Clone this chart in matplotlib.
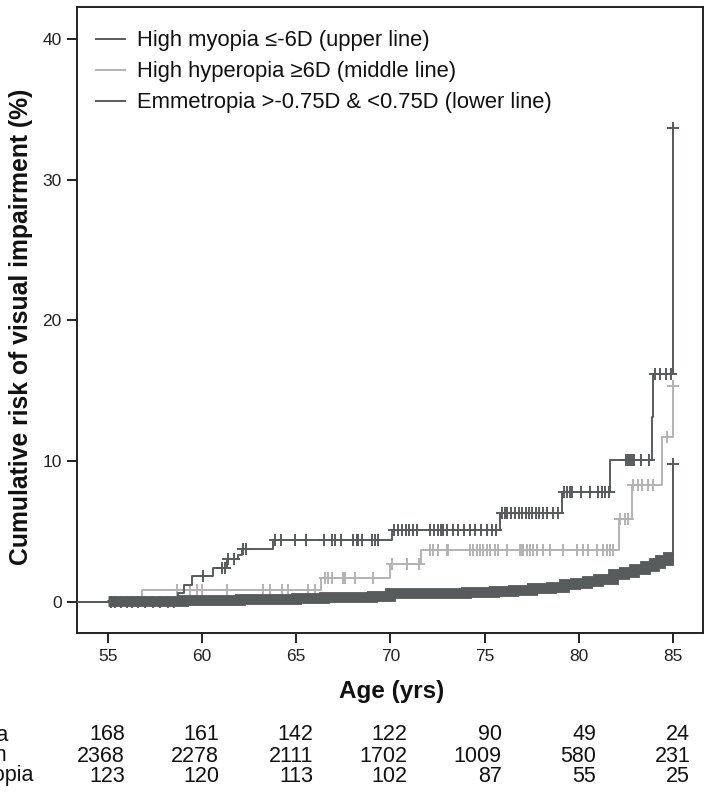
import numpy as np
import matplotlib
matplotlib.use("Agg")
import matplotlib.pyplot as plt
from matplotlib.transforms import blended_transform_factory

plt.rcParams['font.family'] = ['Liberation Sans', 'DejaVu Sans']

# Kaplan-Meier style step curves (age in years, cumulative risk in %)
myopia_age = [53.4, 58.75, 59.05, 59.45, 60.6, 61.35, 61.9, 62.15, 63.75, 70.1, 75.8, 79.1, 81.65, 83.85, 83.95, 85.0]
myopia_risk = [0.0, 0.6, 1.2, 1.8, 2.4, 3.0, 3.35, 3.75, 4.4, 5.1, 6.3, 7.8, 10.05, 13.1, 16.2, 33.7]
myopia_cens = [55.2, 55.4, 55.7, 56.0, 56.3, 56.6, 57.0, 57.4, 57.8, 58.2, 58.5, 60.05, 61.05, 61.2,
               61.4, 61.7, 62.2, 62.35, 63.9, 64.2, 64.95, 65.5, 66.5, 66.9, 67.05, 67.4, 68.0, 68.2,
               68.3, 68.5, 69.0, 69.2, 69.35, 70.2, 70.4, 70.6, 70.8, 71.0, 71.2, 71.4, 72.1, 72.3,
               72.5, 72.7, 72.8, 73.0, 73.3, 73.6, 73.9, 74.2, 74.5, 74.8, 75.1, 75.4, 75.6, 75.9,
               76.05, 76.2, 76.4, 76.6, 76.8, 77.0, 77.2, 77.35, 77.5, 77.7, 77.9, 78.1, 78.3, 78.6,
               78.9, 79.2, 79.35, 79.5, 79.65, 80.1, 80.6, 81.0, 81.2, 81.4, 81.6, 82.5, 82.6, 82.7,
               82.8, 82.9, 83.3, 83.7, 84.05, 84.3, 84.6, 84.9, 85.0]

hyper_age = [53.4, 56.8, 66.3, 69.95, 71.6, 82.1, 82.8, 84.4, 85.0]
hyper_risk = [0.0, 0.8, 1.65, 2.65, 3.65, 5.85, 8.3, 11.7, 15.3]
hyper_cens = [58.66, 59.37, 59.72, 59.99, 61.31, 63.26, 63.61, 64.23, 64.58, 65.64, 66.0, 66.53, 66.7,
              66.88, 67.5, 67.6, 68.12, 69.09, 70.1, 70.9, 71.5, 72.1, 72.27, 72.54, 72.98, 73.07,
              74.22, 74.4, 74.58, 74.75, 74.93, 75.11, 75.28, 75.55, 75.72, 76.17, 76.87, 76.96,
              77.05, 77.23, 77.4, 77.58, 77.76, 78.11, 78.46, 79.17, 79.88, 80.23, 80.5, 80.94,
              81.29, 81.47, 81.65, 81.82, 82.18, 82.44, 82.62, 82.88, 83.15, 83.33, 83.68, 83.94,
              84.65, 85.0]

emm_age = [53.4, 55.0, 56.0, 57.5, 59.0, 60.5, 62.0, 63.5, 65.0, 66.5, 68.0, 69.0, 70.0, 72.0, 74.0,
           75.5, 76.5, 77.5, 78.5, 79.2, 79.8, 80.4, 81.0, 81.8, 82.4, 82.9, 83.5, 84.0, 84.3, 84.7, 85.0]
emm_risk = [0.0, 0.02, 0.04, 0.07, 0.10, 0.13, 0.17, 0.21, 0.26, 0.31, 0.36, 0.40, 0.58, 0.62, 0.66,
            0.74, 0.86, 0.95, 1.05, 1.25, 1.35, 1.50, 1.62, 1.95, 2.10, 2.35, 2.55, 2.75, 2.95, 3.15, 9.8]
emm_cens_start = 55.0   # censored ticks overlap into a solid band from here
emm_cens_end = 85.0

legend_labels = ['High myopia \u2264-6D (upper line)',
                 'High hyperopia \u22656D (middle line)',
                 'Emmetropia >-0.75D & <0.75D (lower line)']

risk_ages = [55, 60, 65, 70, 75, 80, 85]
risk_rows = ['High myopia', 'Emmetropic population', 'High hyperopia']
risk_counts = [[168, 161, 142, 122, 90, 49, 24],
               [2368, 2278, 2111, 1702, 1009, 580, 231],
               [123, 120, 113, 102, 87, 55, 25]]

dark = '#575b5b'
light = '#b3b3b3'


def step_at(ages, risks, t):
    idx = np.searchsorted(ages, t, side='right') - 1
    return np.asarray(risks)[idx]


fig = plt.figure(figsize=(7.12, 7.96), dpi=100)
ax = fig.add_axes([0.1081, 0.2044, 0.8796, 0.7864])

# hyperopia (light)
ax.step(hyper_age, hyper_risk, where='post', color=light, lw=1.4, zorder=2, label=legend_labels[1])
ax.plot(hyper_cens, step_at(hyper_age, hyper_risk, hyper_cens), ls='none', marker='+',
        ms=8.5, mew=1.4, color=light, zorder=2)

# emmetropia (dark, dense censoring -> band)
ea = np.asarray(emm_age)
er = np.asarray(emm_risk)
m = (ea >= emm_cens_start) & (ea < emm_cens_end)
band_x = np.r_[ea[m], emm_cens_end]
band_y = np.r_[er[m], er[m][-1]]
ax.step(emm_age, emm_risk, where='post', color=dark, lw=1.4, zorder=3, label=legend_labels[2])
ax.step(band_x, band_y, where='post', color=dark, lw=7.8, zorder=3,
        solid_joinstyle='miter', solid_capstyle='butt')
ax.plot([emm_cens_end], [emm_risk[-1]], ls='none', marker='+', ms=8.5, mew=1.4, color=dark, zorder=3)

# myopia (dark)
ax.step(myopia_age, myopia_risk, where='post', color=dark, lw=1.4, zorder=4, label=legend_labels[0])
ax.plot(myopia_cens, step_at(myopia_age, myopia_risk, myopia_cens), ls='none', marker='+',
        ms=8.5, mew=1.4, color=dark, zorder=4)

ax.set_xlim(53.37, 86.59)
ax.set_ylim(-2.25, 42.25)
ax.set_xticks(risk_ages)
ax.set_yticks([0, 10, 20, 30, 40])
ax.tick_params(length=7, width=1.4, labelsize=12.5, color='#222222', labelcolor='#222222', pad=4)
for s in ax.spines.values():
    s.set_linewidth(1.4)
    s.set_color('#222222')

ax.set_xlabel('Age (yrs)', fontsize=17.5, fontweight='bold', color='#111111')
ax.set_ylabel('Cumulative risk of visual impairment (%)', fontsize=17.8, fontweight='bold', color='#111111')
ax.xaxis.set_label_coords(0.503, -0.074)
ax.yaxis.set_label_coords(-0.07, 0.49)

h, l = ax.get_legend_handles_labels()
order = [l.index(t) for t in legend_labels]
ax.legend([h[i] for i in order], [l[i] for i in order], loc='upper left',
          bbox_to_anchor=(0.03, 0.963), frameon=False, fontsize=15.8, borderpad=0,
          borderaxespad=0, handlelength=1.35, handletextpad=0.55, labelspacing=0.45,
          labelcolor='#111111')

# numbers at risk table
tr = blended_transform_factory(ax.transData, fig.transFigure)
row_y = [1 - 735 / 796, 1 - 756 / 796, 1 - 776 / 796]
label_x = [8 / 712, 7 / 712, 33 / 712]
for r, counts in enumerate(risk_counts):
    fig.text(label_x[r], row_y[r], risk_rows[r], ha='right', va='center', fontsize=15.5, color='#111111')
    for a, n in zip(risk_ages, counts):
        ax.text(a + 0.9, row_y[r], str(n), transform=tr, ha='right', va='center',
                fontsize=15.5, color='#111111', clip_on=False)

fig.savefig('out.png', dpi=100)
